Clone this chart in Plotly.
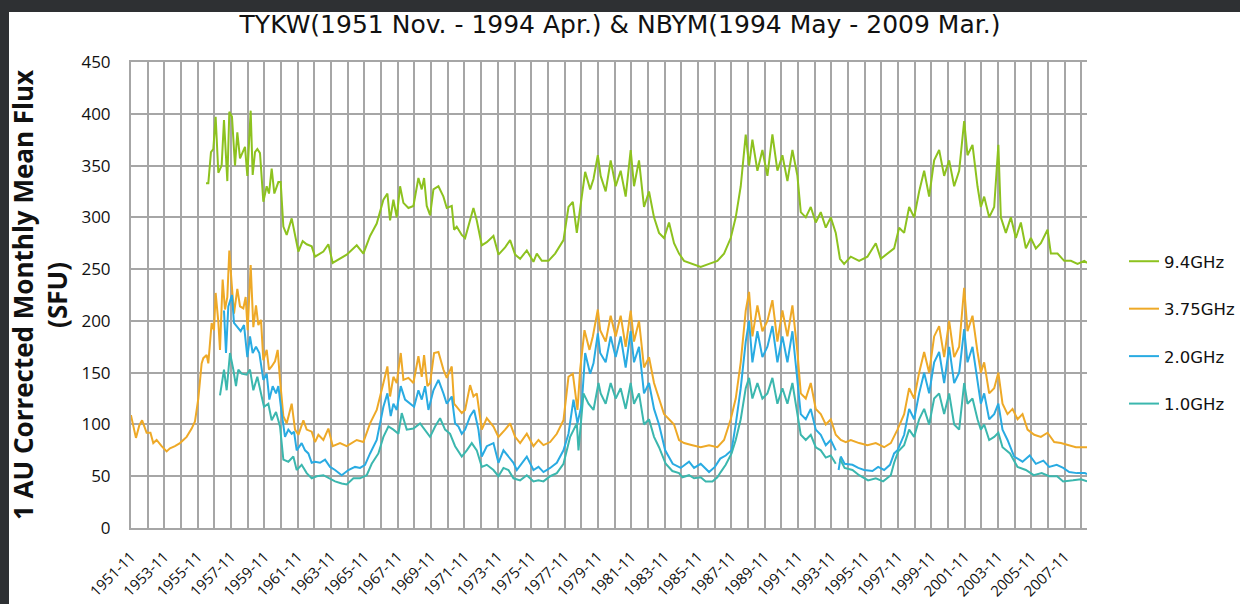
import plotly.graph_objects as go

# ---------------- data (decimal year, value) ----------------
tick_labels = ["1951-11", "1953-11", "1955-11", "1957-11", "1959-11", "1961-11", "1963-11",
               "1965-11", "1967-11", "1969-11", "1971-11", "1973-11", "1975-11", "1977-11",
               "1979-11", "1981-11", "1983-11", "1985-11", "1987-11", "1989-11", "1991-11",
               "1993-11", "1995-11", "1997-11", "1999-11", "2001-11", "2003-11", "2005-11",
               "2007-11"]
x_start = "1951-11"
x_end = "2009-03"
series_names = ["9.4GHz", "3.75GHz", "2.0GHz", "1.0GHz"]
series_colors = ["#8dc21f", "#eea927", "#29abe2", "#3bb7ae"]

t_94 = [1956.33, 1956.47, 1956.63, 1956.77, 1956.91, 1957.07, 1957.27, 1957.41, 1957.61, 1957.73,
        1957.89, 1958.07, 1958.21, 1958.37, 1958.67, 1958.81, 1959.01, 1959.13, 1959.27, 1959.41,
        1959.57, 1959.77, 1959.97, 1960.11, 1960.27, 1960.43, 1960.67, 1960.81, 1960.97, 1961.17,
        1961.47, 1961.67, 1961.87, 1962.13, 1962.37, 1962.67, 1962.87, 1963.37, 1963.67, 1963.93,
        1964.37, 1964.77, 1965.37, 1965.77, 1966.17, 1966.57, 1966.97, 1967.21, 1967.37, 1967.57,
        1967.77, 1967.97, 1968.17, 1968.47, 1968.77, 1969.07, 1969.27, 1969.41, 1969.57, 1969.77,
        1969.97, 1970.27, 1970.57, 1970.77, 1971.07, 1971.21, 1971.37, 1971.67, 1971.87, 1972.17,
        1972.37, 1972.57, 1972.87, 1973.17, 1973.57, 1973.87, 1974.27, 1974.57, 1974.87, 1975.17,
        1975.57, 1975.97, 1976.17, 1976.47, 1976.87, 1977.27, 1977.57, 1977.77, 1978.07, 1978.33,
        1978.57, 1978.77, 1979.07, 1979.37, 1979.57, 1979.83,
        1980.0, 1980.3, 1980.6, 1980.9, 1981.2, 1981.5, 1981.8, 1982.0, 1982.3, 1982.6,
        1982.9, 1983.2, 1983.5, 1983.8, 1984.1, 1984.4, 1984.7, 1985.0, 1985.5, 1986.0,
        1986.5, 1987.0, 1987.4, 1987.8, 1988.1, 1988.4, 1988.7, 1988.9, 1989.1, 1989.4,
        1989.7, 1990.0, 1990.3, 1990.6, 1990.9, 1991.2, 1991.5, 1991.8, 1992.0, 1992.3,
        1992.6, 1992.9, 1993.2, 1993.5, 1993.8, 1994.1, 1994.35, 1994.6, 1995.0, 1995.5,
        1996.0, 1996.5, 1996.8, 1997.2, 1997.6, 1997.9, 1998.2, 1998.5, 1998.8, 1999.1,
        1999.4, 1999.7, 2000.0, 2000.3, 2000.6, 2000.9, 2001.2, 2001.5, 2001.8, 2002.0,
        2002.3, 2002.6, 2002.8, 2003.0, 2003.3, 2003.6, 2003.85, 2004.0, 2004.3, 2004.6,
        2004.9, 2005.2, 2005.5, 2005.8, 2006.1, 2006.4, 2006.8, 2007.0, 2007.4, 2007.8,
        2008.2, 2008.6, 2009.0, 2009.17]
v_94 = [333, 333, 363, 366, 397, 343, 350, 394, 335, 402,
        397, 350, 382, 357, 368, 340, 403, 341, 363, 366,
        362, 315, 330, 323, 347, 323, 334, 334, 291, 283,
        299, 282, 267, 277, 274, 272, 262, 267, 274, 256,
        260, 264, 273, 265, 282, 294, 317, 323, 297, 317,
        300, 330, 314, 309, 311, 338, 327, 338, 311, 302,
        327, 330, 320, 309, 311, 288, 291, 283, 280, 297,
        309, 297, 273, 276, 282, 264, 271, 278, 264, 260,
        268, 257, 265, 258, 258, 265, 273, 278, 310, 315,
        285, 310, 344, 327, 337, 360,
        340, 325, 355, 330, 345, 320, 365, 330, 355, 310,
        325, 300, 285, 280, 295, 275, 265, 258, 255, 252,
        255, 258, 265, 280, 300, 330, 380, 350, 375, 345,
        365, 340, 380, 345, 360, 335, 365, 340, 305, 300,
        310, 295, 305, 290, 300, 285, 260, 255, 262, 258,
        262, 275, 260, 265, 270, 290, 285, 310, 300, 325,
        345, 320, 355, 365, 340, 355, 330, 345, 393, 360,
        370, 330, 310, 320, 300, 310, 370, 300, 285, 300,
        280, 295, 270, 280, 270, 275, 288, 265, 265, 258,
        258, 255, 258, 256]

t_375 = [1951.83, 1952.13, 1952.33, 1952.5, 1952.77, 1953.0, 1953.17, 1953.37, 1953.67, 1953.97,
         1954.17, 1954.47, 1954.77, 1954.97, 1955.17, 1955.47, 1955.67, 1955.87, 1956.07, 1956.17,
         1956.37, 1956.47, 1956.67, 1956.81, 1956.91, 1957.07, 1957.17, 1957.33, 1957.47, 1957.61,
         1957.73, 1957.87, 1958.01, 1958.21, 1958.37, 1958.57, 1958.71, 1958.83, 1959.01, 1959.17,
         1959.33, 1959.47, 1959.63, 1959.77, 1959.97, 1960.11, 1960.27, 1960.47, 1960.63, 1960.77,
         1960.97, 1961.17, 1961.47, 1961.67, 1961.87, 1962.17, 1962.37, 1962.67, 1962.87, 1963.07,
         1963.37, 1963.67, 1963.93, 1964.37, 1964.77, 1965.37, 1965.77, 1966.17, 1966.57, 1966.97,
         1967.21, 1967.37, 1967.57, 1967.77, 1968.01, 1968.17, 1968.47, 1968.77, 1969.07, 1969.27,
         1969.41, 1969.61, 1969.77, 1970.01, 1970.27, 1970.57, 1970.77, 1971.07, 1971.21, 1971.37,
         1971.67, 1971.87, 1972.17, 1972.37, 1972.57, 1972.87, 1973.17, 1973.57, 1973.87, 1974.27,
         1974.57, 1974.87, 1975.17, 1975.57, 1975.97, 1976.27, 1976.57, 1976.97, 1977.37, 1977.77,
         1978.07, 1978.33, 1978.61, 1978.77, 1979.03, 1979.33, 1979.53, 1979.83, 1979.97,
         1980.3, 1980.6, 1980.9, 1981.2, 1981.5, 1981.8, 1982.0, 1982.3, 1982.6, 1982.9,
         1983.2, 1983.5, 1983.8, 1984.1, 1984.4, 1984.7, 1985.0, 1985.5, 1986.0, 1986.5,
         1987.0, 1987.4, 1987.8, 1988.1, 1988.4, 1988.7, 1988.9, 1989.1, 1989.4, 1989.7,
         1990.0, 1990.3, 1990.6, 1990.9, 1991.2, 1991.5, 1991.8, 1992.0, 1992.3, 1992.6,
         1992.9, 1993.2, 1993.5, 1993.8, 1994.1, 1994.4, 1994.7, 1995.0, 1995.5, 1996.0,
         1996.5, 1997.0, 1997.4, 1997.8, 1998.2, 1998.5, 1998.8, 1999.1, 1999.4, 1999.7,
         2000.0, 2000.3, 2000.6, 2000.9, 2001.2, 2001.5, 2001.8, 2002.0, 2002.3, 2002.6,
         2002.8, 2003.0, 2003.3, 2003.6, 2003.85, 2004.1, 2004.4, 2004.7, 2005.0, 2005.3,
         2005.6, 2006.0, 2006.4, 2006.8, 2007.2, 2007.6, 2008.0, 2008.5, 2009.17]
v_375 = [109, 87, 99, 104, 92, 92, 82, 85, 79, 74,
         77, 79, 82, 85, 88, 96, 103, 125, 159, 164,
         167, 159, 198, 191, 227, 199, 172, 240, 211, 223,
         268, 236, 207, 231, 214, 212, 223, 191, 254, 194,
         215, 196, 201, 162, 172, 153, 156, 161, 172, 143,
         108, 101, 120, 95, 90, 104, 95, 93, 83, 90,
         85, 96, 79, 82, 79, 85, 83, 101, 114, 140,
         156, 127, 146, 140, 169, 143, 145, 140, 166, 146,
         167, 137, 140, 169, 170, 153, 145, 156, 120, 117,
         111, 114, 138, 127, 130, 95, 106, 98, 88, 95,
         101, 88, 82, 91, 79, 85, 80, 83, 91, 104,
         146, 149, 114, 153, 191, 172, 185, 211, 191,
         180, 205, 185, 205, 175, 210, 180, 200, 155, 165,
         140, 125, 110, 105, 100, 85, 82, 80, 78, 80,
         78, 85, 105, 125, 160, 210, 228, 185, 215, 190,
         200, 220, 180, 210, 185, 215, 170, 130, 125, 140,
         115, 110, 100, 105, 90, 85, 83, 85, 82, 80,
         82, 78, 82, 95, 110, 135, 125, 150, 170, 150,
         185, 195, 165, 200, 165, 175, 232, 190, 205, 170,
         150, 160, 130, 135, 150, 120, 110, 115, 105, 110,
         95, 90, 88, 92, 83, 82, 80, 78, 78]

t_20 = [1957.41, 1957.53, 1957.67, 1957.89, 1958.01, 1958.21, 1958.41, 1958.61, 1958.81, 1958.97,
        1959.13, 1959.33, 1959.53, 1959.77, 1959.97, 1960.13, 1960.33, 1960.53, 1960.67, 1960.87,
        1961.07, 1961.27, 1961.47, 1961.61, 1961.77, 1962.07, 1962.27, 1962.47, 1962.67, 1962.87,
        1963.17, 1963.47, 1963.77, 1964.07, 1964.47, 1964.87, 1965.27, 1965.57, 1965.87, 1966.17,
        1966.57, 1966.97, 1967.21, 1967.41, 1967.57, 1967.77, 1968.01, 1968.27, 1968.57, 1968.81,
        1969.07, 1969.27, 1969.47, 1969.67, 1969.97, 1970.27, 1970.57, 1970.77, 1971.07, 1971.27,
        1971.47, 1971.67, 1971.87, 1972.17, 1972.41, 1972.67, 1972.87, 1973.17, 1973.57, 1973.87,
        1974.17, 1974.47, 1974.77, 1974.97, 1975.27, 1975.57, 1975.97, 1976.27, 1976.57, 1976.97,
        1977.37, 1977.77, 1978.07, 1978.37, 1978.61, 1978.87, 1979.07, 1979.37, 1979.57, 1979.83,
        1979.97, 1980.3, 1980.6, 1980.9, 1981.2, 1981.5, 1981.8, 1982.0, 1982.3, 1982.6,
        1982.9, 1983.2, 1983.5, 1983.87, 1984.32, 1984.8, 1985.3, 1985.6, 1986.0, 1986.5,
        1986.85, 1987.17, 1987.5, 1987.85, 1988.1, 1988.4, 1988.7, 1988.9, 1989.1, 1989.4,
        1989.7, 1990.0, 1990.3, 1990.6, 1990.9, 1991.2, 1991.5, 1991.8, 1992.0, 1992.3,
        1992.6, 1992.9, 1993.2, 1993.5, 1993.8, 1994.1, 1994.2,
        1994.27, 1994.4, 1994.63, 1995.1, 1995.45, 1995.8, 1996.3, 1996.64, 1997.0, 1997.35,
        1997.6, 1997.8, 1998.2, 1998.5, 1998.8, 1999.1, 1999.4, 1999.7, 2000.0, 2000.3,
        2000.6, 2000.9, 2001.2, 2001.5, 2001.8, 2002.0, 2002.3, 2002.6, 2002.8, 2003.0,
        2003.3, 2003.6, 2003.85, 2004.1, 2004.4, 2004.8, 2005.3, 2005.73, 2006.1, 2006.55,
        2006.9, 2007.35, 2007.74, 2008.1, 2008.56, 2009.04, 2009.17]
v_20 = [210, 169, 214, 225, 198, 194, 190, 196, 165, 185,
        169, 175, 169, 143, 149, 124, 137, 130, 137, 111,
        88, 95, 91, 93, 75, 82, 75, 72, 63, 64,
        63, 66, 59, 56, 51, 56, 59, 58, 61, 72,
        85, 117, 130, 108, 120, 114, 137, 124, 120, 117,
        133, 124, 137, 114, 133, 143, 130, 120, 127, 101,
        98, 91, 95, 108, 114, 95, 69, 79, 82, 63,
        75, 69, 63, 56, 63, 69, 56, 59, 54, 58,
        63, 75, 91, 124, 101, 120, 169, 149, 159, 188,
        169, 160, 185, 165, 185, 155, 190, 160, 175, 130,
        140, 115, 100, 75, 62, 58, 64, 58, 62, 54,
        59, 67, 70, 75, 100, 135, 180, 200, 160, 190,
        165, 175, 195, 160, 185, 160, 190, 145, 110, 105,
        115, 95, 90, 80, 85, 75, None,
        56, 69, 62, 61, 58, 56, 55, 59, 56, 61,
        72, 75, 90, 115, 105, 130, 150, 130, 160, 170,
        140, 175, 140, 150, 192, 160, 175, 140, 120, 130,
        105, 110, 120, 95, 85, 69, 64, 70, 62, 65,
        59, 61, 58, 54, 53, 53, 52]

t_10 = [1957.17, 1957.41, 1957.57, 1957.77, 1957.97, 1958.13, 1958.27, 1958.47, 1958.77, 1958.97,
        1959.17, 1959.41, 1959.67, 1959.81, 1960.07, 1960.27, 1960.53, 1960.77, 1960.97, 1961.27,
        1961.57, 1961.77, 1962.07, 1962.37, 1962.67, 1962.97, 1963.37, 1963.77, 1964.07, 1964.47,
        1964.77, 1965.17, 1965.57, 1965.97, 1966.27, 1966.67, 1966.97, 1967.27, 1967.57, 1967.87,
        1968.07, 1968.37, 1968.77, 1969.17, 1969.47, 1969.77, 1970.07, 1970.37, 1970.67, 1970.97,
        1971.27, 1971.67, 1971.97, 1972.27, 1972.57, 1972.87, 1973.17, 1973.57, 1973.87, 1974.17,
        1974.47, 1974.77, 1975.17, 1975.57, 1975.97, 1976.27, 1976.57, 1976.97, 1977.37, 1977.77,
        1978.17, 1978.57, 1978.67, 1978.97, 1979.27, 1979.57, 1979.87,
        1980.0, 1980.3, 1980.6, 1980.9, 1981.2, 1981.5, 1981.8, 1982.0, 1982.3, 1982.6,
        1982.9, 1983.2, 1983.5, 1983.9, 1984.3, 1984.7, 1984.9, 1985.3, 1985.6, 1986.0,
        1986.3, 1986.7, 1987.0, 1987.2, 1987.5, 1987.85, 1988.1, 1988.4, 1988.7, 1988.9,
        1989.1, 1989.4, 1989.7, 1990.0, 1990.3, 1990.6, 1990.9, 1991.2, 1991.5, 1991.8,
        1992.0, 1992.3, 1992.6, 1992.9, 1993.2, 1993.5, 1993.8, 1994.1, 1994.2,
        1994.34, 1994.63, 1995.1, 1995.5, 1996.04, 1996.5, 1996.94, 1997.4, 1997.6, 1997.85,
        1998.2, 1998.5, 1998.8, 1999.1, 1999.4, 1999.7, 2000.0, 2000.3, 2000.6, 2000.9,
        2001.2, 2001.5, 2001.8, 2002.0, 2002.3, 2002.6, 2002.8, 2003.0, 2003.3, 2003.6,
        2003.85, 2004.1, 2004.55, 2005.0, 2005.5, 2005.97, 2006.45, 2006.9, 2007.37, 2007.74,
        2008.33, 2008.8, 2009.17]
v_10 = [128, 153, 133, 169, 153, 137, 153, 149, 148, 153,
        133, 146, 127, 117, 120, 104, 112, 98, 66, 64,
        69, 56, 61, 53, 48, 50, 51, 48, 45, 43,
        42, 48, 48, 51, 62, 72, 88, 98, 95, 91,
        111, 95, 96, 101, 95, 88, 98, 106, 95, 91,
        79, 69, 75, 82, 75, 59, 61, 56, 50, 58,
        56, 48, 46, 51, 45, 46, 45, 50, 53, 62,
        88, 101, 75, 130, 120, 114, 140,
        130, 120, 140, 125, 135, 115, 140, 120, 130, 100,
        105, 88, 78, 62, 55, 53, 49, 51, 48, 49,
        45, 45, 49, 54, 61, 72, 85, 105, 135, 145,
        125, 140, 125, 130, 145, 120, 135, 120, 140, 110,
        90, 85, 90, 78, 75, 68, 70, 62, None,
        67, 58, 56, 51, 46, 48, 45, 51, 63, 74,
        80, 95, 88, 105, 115, 100, 125, 130, 110, 130,
        100, 95, 140, 120, 125, 105, 95, 100, 85, 88,
        92, 78, 72, 59, 56, 51, 53, 50, 50, 45,
        46, 47, 45]


def ym_to_dec(s):
    y, m = s.split("-")
    return int(y) + (int(m) - 1) / 12.0


tick_vals = [ym_to_dec(s) for s in tick_labels]
x0 = ym_to_dec(x_start)
x1 = ym_to_dec(x_end)

# ---------------- layout constants ----------------
W, H = 1240, 604
ML, MR, MT, MB = 131, 153, 62, 76
PW, PH = W - ML - MR, H - MT - MB
GRID = "#a6a6a6"
DARK = "#2e3033"
TICKFONT = "Open Sans, sans-serif"
BOLDFONT = "Open Sans, sans-serif"
TXTFONT = "DejaVu Sans, sans-serif"


def px_x(p):
    return (p - ML) / PW


def px_y(p):
    return (H - MB - p) / PH


fig = go.Figure()
for name, col, tt, vv in zip(series_names, series_colors,
                             [t_94, t_375, t_20, t_10], [v_94, v_375, v_20, v_10]):
    fig.add_trace(go.Scatter(x=tt, y=vv, mode="lines", name=name, legendgroup=name,
                             line=dict(color=col, width=2), connectgaps=False))

fig.update_layout(
    width=W, height=H,
    margin=dict(l=ML, r=MR, t=MT, b=MB, autoexpand=False),
    paper_bgcolor="white", plot_bgcolor="white",
    font=dict(family=TXTFONT, color="#111111"),
    title=dict(text="TYKW(1951 Nov. - 1994 Apr.) & NBYM(1994 May - 2009 Mar.)",
               font=dict(family=TXTFONT, size=25, color="#111111"),
               x=0.5, xref="container", xanchor="center",
               y=1 - 24 / H, yref="container", yanchor="middle"),
    showlegend=True,
    legend=dict(x=px_x(1124), xanchor="left", y=px_y(244), yanchor="top",
                traceorder="grouped", tracegroupgap=23,
                font=dict(family=TXTFONT, size=16.5, color="#111111"),
                bgcolor="rgba(0,0,0,0)"),
    xaxis=dict(range=[x0, x1], tickmode="array", tickvals=tick_vals, ticktext=tick_labels,
               tickangle=-45, tickfont=dict(size=15, family=TICKFONT, color="#111111"),
               showgrid=True, gridcolor=GRID, gridwidth=2,
               minor=dict(dtick=1, tick0=x0, showgrid=True, gridcolor=GRID, gridwidth=2),
               showline=True, linecolor=GRID, linewidth=2, mirror=True, automargin=False,
               ticks="", zeroline=False, ticklabelstandoff=12),
    yaxis=dict(range=[0, 450], dtick=50, tick0=0, showgrid=True, gridcolor=GRID, gridwidth=2,
               showline=True, linecolor=GRID, linewidth=2, ticks="", zeroline=False,
               automargin=False,
               tickfont=dict(size=17, family=TICKFONT, color="#111111"), ticklabelstandoff=15),
)

# y-axis title as rotated annotation
fig.add_annotation(text="<b>1 AU Corrected Monthly Mean Flux</b><br><b>(SFU)</b>",
                   xref="paper", yref="paper", x=px_x(40), y=0.5, xanchor="center",
                   yanchor="middle", textangle=-90, showarrow=False,
                   font=dict(family=BOLDFONT, size=26, color="#111111"))

# dark frame strips (top and left) of the slide background
fig.add_shape(type="rect", xref="paper", yref="paper", x0=px_x(0), x1=px_x(W), y0=px_y(12),
              y1=px_y(0), fillcolor=DARK, line=dict(width=0), layer="above")
fig.add_shape(type="rect", xref="paper", yref="paper", x0=px_x(0), x1=px_x(9), y0=px_y(H),
              y1=px_y(0), fillcolor=DARK, line=dict(width=0), layer="above")

fig.write_html("out.html", config={"displayModeBar": False},
               post_script="document.body.style.margin='0px';")
